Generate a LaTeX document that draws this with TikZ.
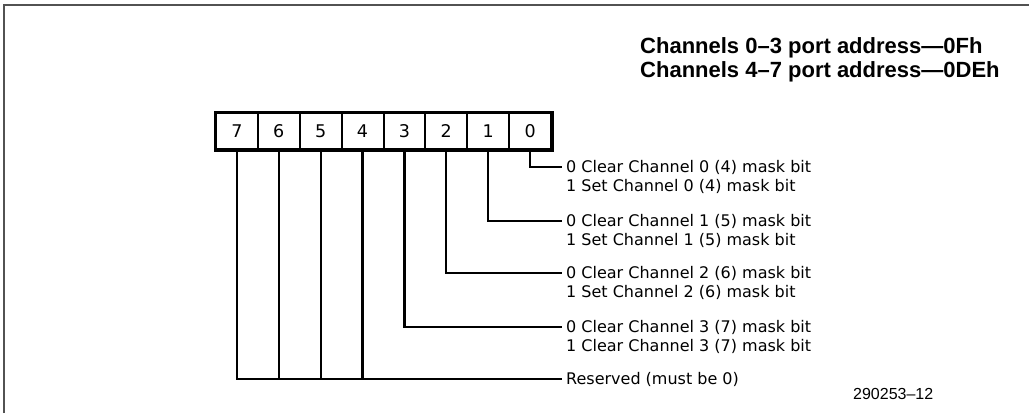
\documentclass[tikz,border=0pt]{standalone}
\usepackage{fontspec}
\setmainfont{DejaVu Sans}
\newfontfamily\titlefont{Liberation Sans}
\usetikzlibrary{calc}
\begin{document}
\begin{tikzpicture}[x=1pt,y=-1pt,
  cell/.style={draw,line width=2pt,minimum width=41.875pt,minimum height=36pt,inner sep=0pt,font=\fontsize{17.5}{18}\selectfont},
  lbl/.style={anchor=west,inner xsep=4pt,inner ysep=0pt,text height=11.6pt,text depth=0pt,font=\fontsize{16}{18}\selectfont},
  lbl2/.style={anchor=base west,inner xsep=4pt,inner ysep=0pt,font=\fontsize{16}{18}\selectfont},
  conn/.style={line width=2.2pt},
  ttl/.style={anchor=base west,inner sep=0pt,font=\titlefont\bfseries\fontsize{22}{24}\selectfont},
  frame/.style={draw=black!68,line width=1.6pt}]
\useasboundingbox (0,0) rectangle (1029,413);
\draw[frame] (4,413) -- (4,5) -- (1029,5);
% title
\node[ttl] (t1) at (640,53) {Channels 0–3 port address—0Fh};
\node[ttl] (t2) at (640,77) {Channels 4–7 port address—0DEh};
% register cells
\foreach \b [count=\i from 0] in {7,6,5,4,3,2,1,0}{
  \node[cell] (b\b) at ({216+(\i+0.5)*41.875},131) {\b};
}
\draw[line width=3pt] (b7.north west) rectangle (b0.south east);
% labels
\node[lbl] (l0) at (562,167) {0 Clear Channel 0 (4) mask bit};
\node[lbl2] (l0b) at ($(l0.base west)+(0,19)$) {1 Set Channel 0 (4) mask bit};
\node[lbl] (l1) at (562,221) {0 Clear Channel 1 (5) mask bit};
\node[lbl2] (l1b) at ($(l1.base west)+(0,19)$) {1 Set Channel 1 (5) mask bit};
\node[lbl] (l2) at (562,273) {0 Clear Channel 2 (6) mask bit};
\node[lbl2] (l2b) at ($(l2.base west)+(0,19)$) {1 Set Channel 2 (6) mask bit};
\node[lbl] (l3) at (562,327) {0 Clear Channel 3 (7) mask bit};
\node[lbl2] (l3b) at ($(l3.base west)+(0,19)$) {1 Clear Channel 3 (7) mask bit};
\node[lbl] (rs) at (562,379) {Reserved (must be 0)};
% connectors
\draw[conn] ([yshift=1pt]b0.south) |- (l0.west);
\draw[conn] ([yshift=1pt]b1.south) |- (l1.west);
\draw[conn] ([yshift=1pt]b2.south) |- (l2.west);
\draw[conn] ([yshift=1pt]b3.south) |- (l3.west);
\draw[conn] ([yshift=1pt]b7.south) |- (rs.west);
\foreach \b in {6,5,4}{
  \draw[conn] ([yshift=1pt]b\b.south) -- (b\b.south |- rs.west);
}
\node[anchor=base west,inner sep=0pt,font=\titlefont\fontsize{16}{18}\selectfont] (fig) at (853,399) {290253–12};
\end{tikzpicture}
\end{document}
